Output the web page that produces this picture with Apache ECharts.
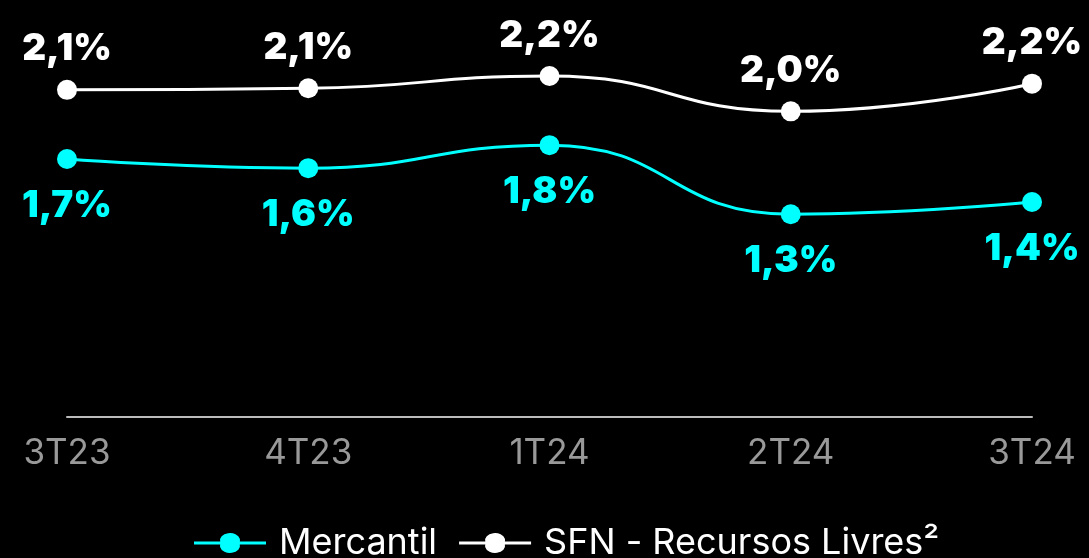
<!DOCTYPE html>
<html>
<head>
<meta charset="utf-8">
<script src="https://cdn.jsdelivr.net/npm/echarts@6/dist/echarts.min.js"></script>
<style>
html,body{margin:0;padding:0;background:#000;}
#main{width:1089px;height:558px;}
</style>
</head>
<body>
<div id="main"></div>
<script>
var categories = ['3T23', '4T23', '1T24', '2T24', '3T24'];
var mercantil = [1.68, 1.62, 1.77, 1.32, 1.40];
var sfn = [2.13, 2.14, 2.22, 1.99, 2.17];
var seriesNames = ['Mercantil', 'SFN - Recursos Livres²'];

// line + dot legend marker, 72x20
var legendIcon = 'path://M0,8 H26.2 A10,10 0 1,1 45.8,8 H72 V12 H45.8 A10,10 0 1,1 26.2,12 H0 Z';

function pct(p){
	return p.value.toFixed(1).replace('.', ',') + '%';
}

var chart = echarts.init(document.getElementById('main'));
chart.setOption({
	backgroundColor: '#000',
	animation: false,
	grid: {left: 67, right: 57, top: 33, bottom: 141},
	legend: {
		data: seriesNames,
		bottom: -8,
		left: 189,
		itemWidth: 72,
		itemHeight: 20,
		itemGap: 22,
		icon: legendIcon,
		symbolKeepAspect: false,
		textStyle: {color: '#fff', fontSize: 36, fontFamily: 'Inter', padding: [0, 0, 0, 8]}
	},
	xAxis: {
		type: 'category',
		data: categories,
		boundaryGap: false,
		axisLine: {lineStyle: {color: '#bbb', width: 2}},
		axisTick: {show: false},
		axisLabel: {color: '#999', fontSize: 35, fontFamily: 'Inter', margin: 19}
	},
	yAxis: {
		type: 'value',
		min: 0,
		max: 2.5,
		show: false,
		splitLine: {show: false}
	},
	series: [
		{
			name: seriesNames[0],
			type: 'line',
			data: mercantil,
			smooth: 0.5,
			symbol: 'circle',
			symbolSize: 20,
			color: '#00ffff',
			lineStyle: {width: 3, color: '#00ffff'},
			label: {
				show: true,
				position: 'bottom',
				distance: 18,
				formatter: pct,
				color: '#00ffff',
				fontSize: 37,
				fontWeight: 900,
				fontFamily: 'Inter'
			}
		},
		{
			name: seriesNames[1],
			type: 'line',
			data: sfn,
			smooth: 0.5,
			symbol: 'circle',
			symbolSize: 20,
			color: '#ffffff',
			lineStyle: {width: 3, color: '#ffffff'},
			label: {
				show: true,
				position: 'top',
				distance: 12,
				formatter: pct,
				color: '#ffffff',
				fontSize: 37,
				fontWeight: 900,
				fontFamily: 'Inter'
			}
		}
	]
});
</script>
</body>
</html>
